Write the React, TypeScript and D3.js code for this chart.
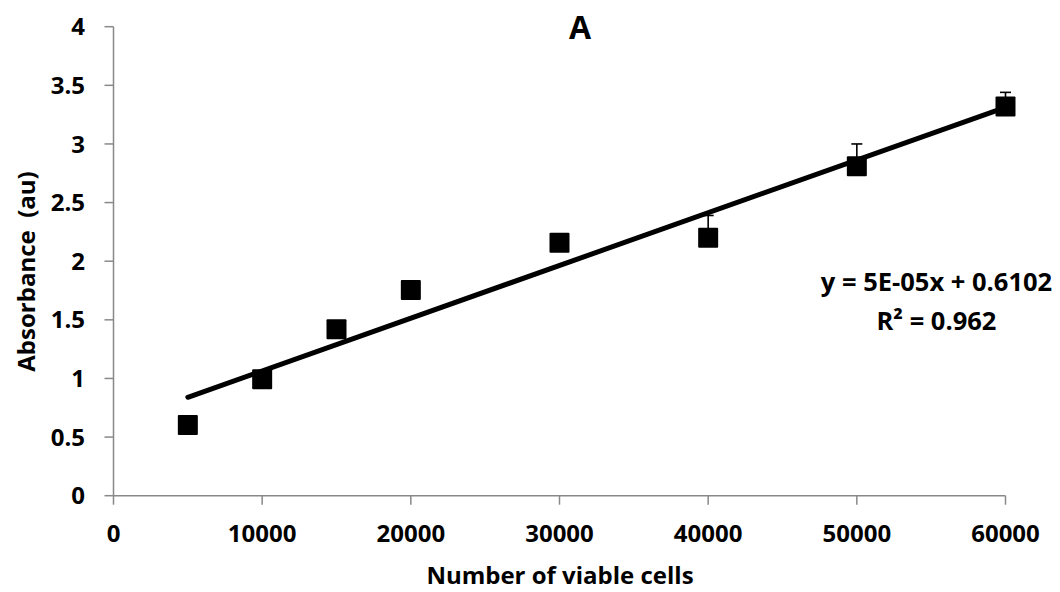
import React from "react";
import * as d3 from "d3";

const cells = [5000, 10000, 15000, 20000, 30000, 40000, 50000, 60000];
const absorbance = [0.603, 0.993, 1.42, 1.755, 2.158, 2.2, 2.81, 3.32];
const errPlus = [0.03, 0.04, 0.05, 0.05, 0.06, 0.19, 0.19, 0.12];
const xTicks = [0, 10000, 20000, 30000, 40000, 50000, 60000];
const yTicks = [0, 0.5, 1, 1.5, 2, 2.5, 3, 3.5, 4];
const equationText = "y = 5E-05x + 0.6102";
const r2Text = "R² = 0.962";
const titleText = "A";
const xLabel = "Number of viable cells";
const yLabel = "Absorbance  (au)";

const W = 1060;
const H = 592;
const FONT = "'Open Sans', Lato, sans-serif";

export default function App() {
  const x = d3.scaleLinear().domain([0, 60000]).range([113.5, 1005.5]);
  const y = d3.scaleLinear().domain([0, 4]).range([495.7, 26.7]);

  // least squares trendline from data
  const mx = d3.mean(cells)!;
  const my = d3.mean(absorbance)!;
  let sxy = 0, sxx = 0;
  cells.forEach((c, i) => {
    sxy += (c - mx) * (absorbance[i] - my);
    sxx += (c - mx) * (c - mx);
  });
  const slope = sxy / sxx;
  const intercept = my - slope * mx;
  const x0 = d3.min(cells)!;
  const x1 = d3.max(cells)!;
  const line = d3.line<[number, number]>().x(d => x(d[0])).y(d => y(d[1]));
  const trend = line([[x0, intercept + slope * x0], [x1, intercept + slope * x1]]) || "";

  const axisColor = "#898989";
  const ms = 20;

  return (
    <div style={{ position: "fixed", left: 0, top: 0 }}>
      <svg width={W} height={H} style={{ display: "block", background: "#fff" }} fontFamily={FONT}>
        {/* y axis */}
        <line x1={x(0)} x2={x(0)} y1={y(0)} y2={y(4)} stroke={axisColor} strokeWidth={1.5} />
        {yTicks.map(t => (
          <g key={"y" + t}>
            <line x1={x(0) - 9} x2={x(0)} y1={y(t)} y2={y(t)} stroke={axisColor} strokeWidth={1.5} />
            <text x={85} y={y(t)} dy="0.36em" textAnchor="end" fontSize={24} fontWeight={700} fill="#000">
              {t}
            </text>
          </g>
        ))}
        {/* x axis */}
        <line x1={x(0)} x2={x(60000)} y1={y(0)} y2={y(0)} stroke={axisColor} strokeWidth={1.5} />
        {xTicks.map(t => (
          <g key={"x" + t}>
            <line x1={x(t)} x2={x(t)} y1={y(0)} y2={y(0) + 9} stroke={axisColor} strokeWidth={1.5} />
            <text x={x(t)} y={541.5} textAnchor="middle" fontSize={24} fontWeight={700} fill="#000">
              {t}
            </text>
          </g>
        ))}
        {/* markers */}
        {cells.map((c, i) => (
          <rect key={"m" + i} x={x(c) - ms / 2} y={y(absorbance[i]) - ms / 2} width={ms} height={ms} rx={1} fill="#000" />
        ))}
        {/* error bars */}
        {cells.map((c, i) => (
          <g key={"e" + i} stroke="#000" strokeWidth={1.6}>
            <line x1={x(c)} x2={x(c)} y1={y(absorbance[i])} y2={y(absorbance[i] + errPlus[i])} />
            <line x1={x(c) - 5.5} x2={x(c) + 5.5} y1={y(absorbance[i] + errPlus[i])} y2={y(absorbance[i] + errPlus[i])} />
          </g>
        ))}
        {/* trendline */}
        <path d={trend} stroke="#000" strokeWidth={5} strokeLinecap="round" fill="none" />
        {/* equation */}
        <text x={936.5} y={291} textAnchor="middle" fontSize={25.5} fontWeight={700} fill="#000">{equationText}</text>
        <text x={936.5} y={330} textAnchor="middle" fontSize={25.5} fontWeight={700} fill="#000">{r2Text}</text>
        {/* title */}
        <text x={580} y={39} textAnchor="middle" fontSize={32} fontWeight={700} fill="#000">{titleText}</text>
        {/* axis labels */}
        <text x={560} y={584} textAnchor="middle" fontSize={24} fontWeight={700} fill="#000">{xLabel}</text>
        <text transform={`translate(35,271.5) rotate(-90)`} textAnchor="middle" fontSize={24} fontWeight={700} fill="#000" style={{ whiteSpace: "pre" }}>{yLabel}</text>
      </svg>
    </div>
  );
}
